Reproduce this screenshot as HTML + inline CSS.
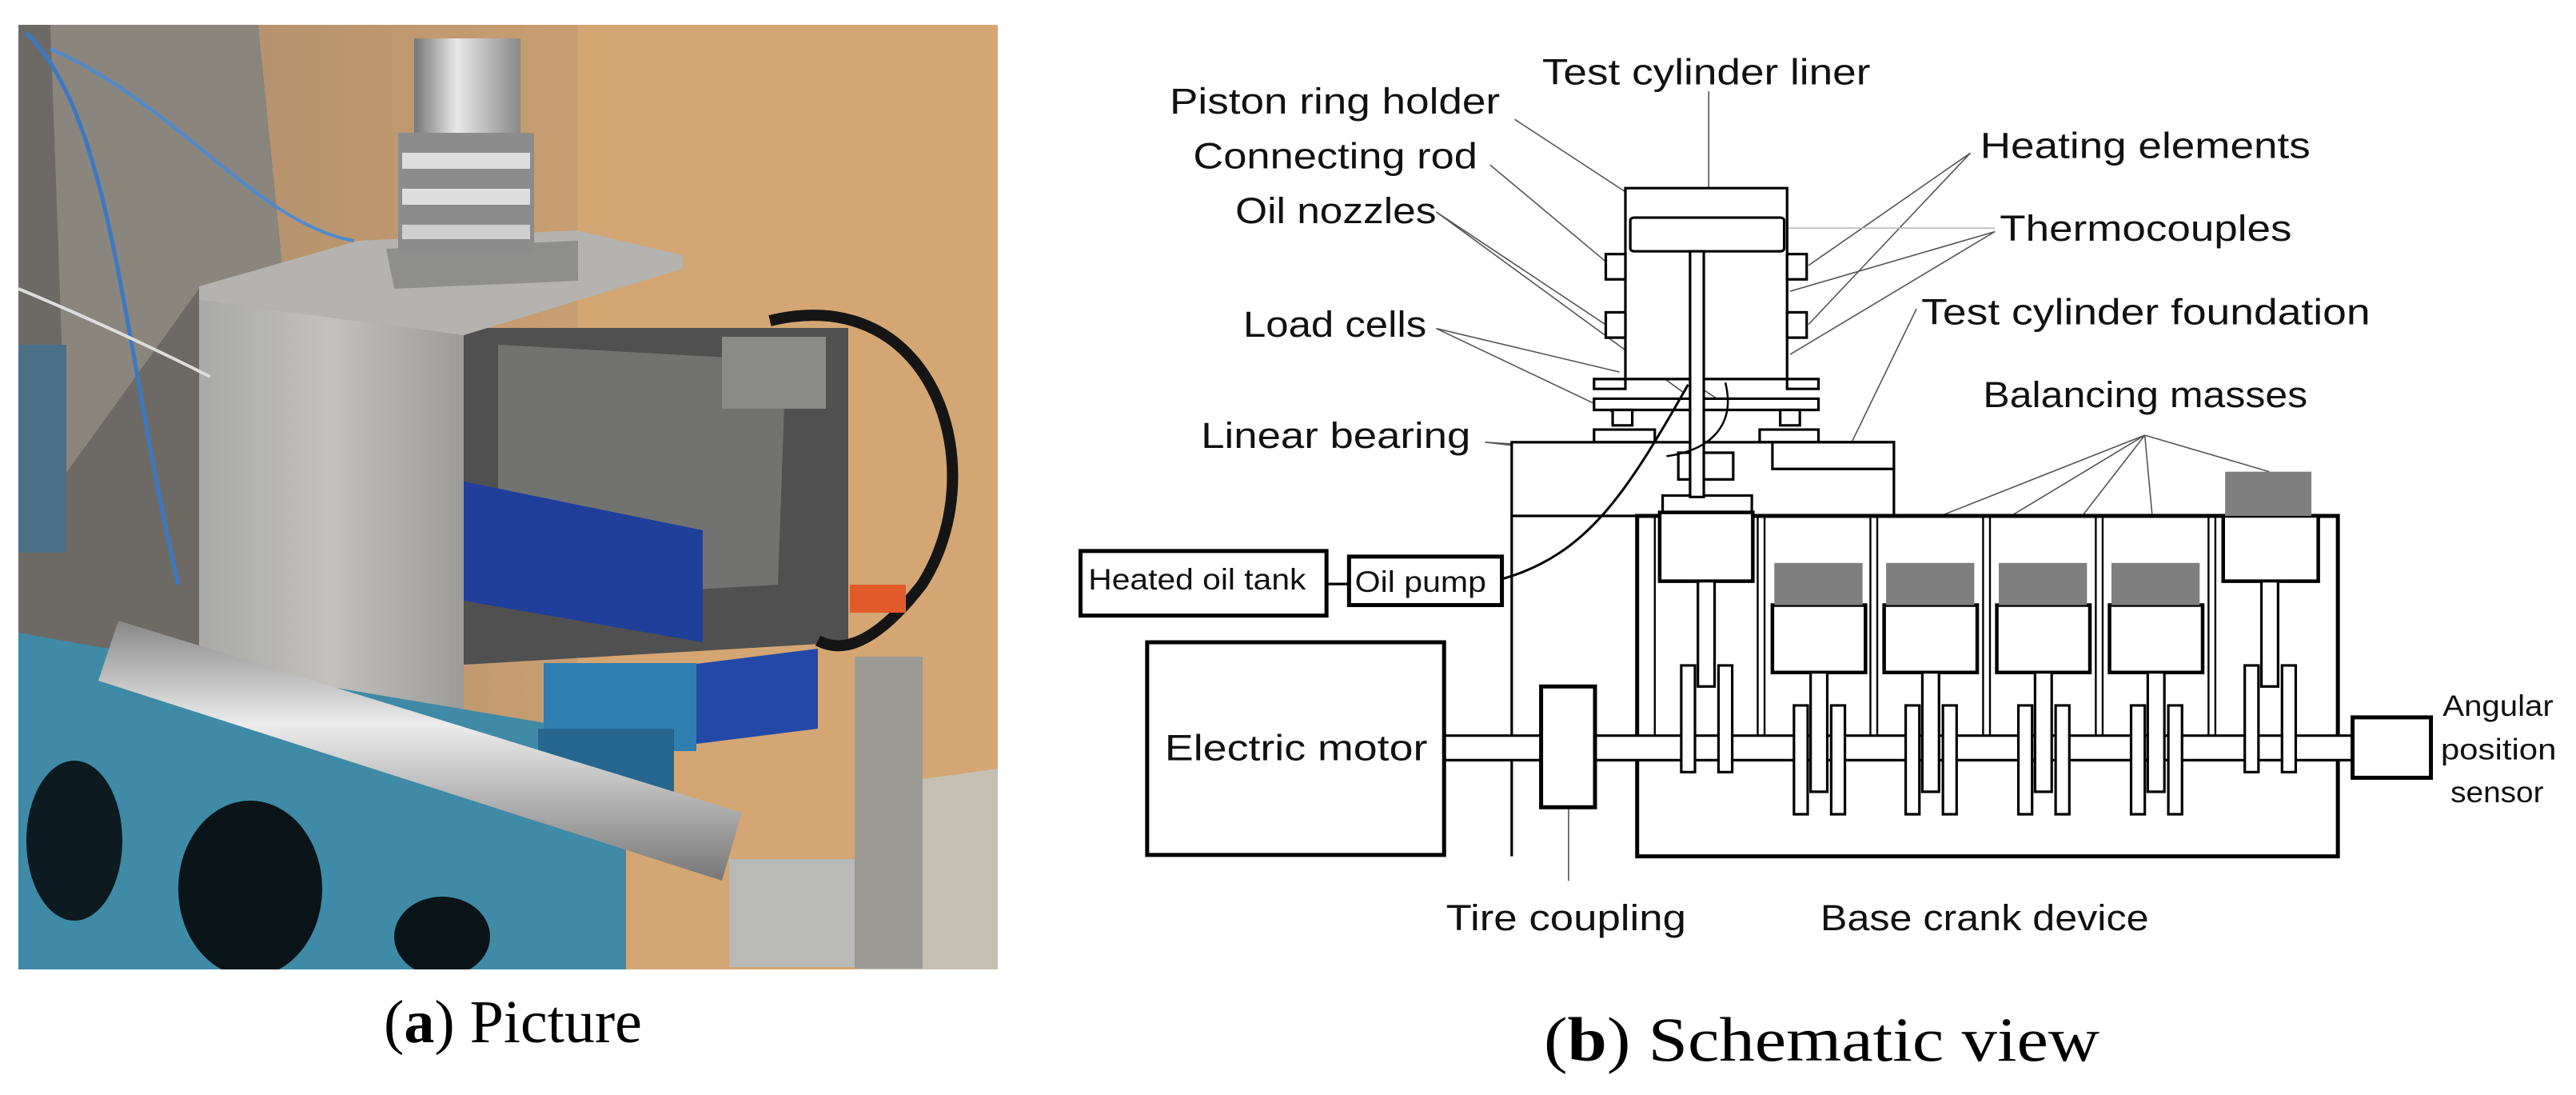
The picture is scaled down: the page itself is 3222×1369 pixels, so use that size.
<!DOCTYPE html>
<html><head><meta charset="utf-8"><style>
html,body{margin:0;padding:0;background:#fff;}
body{width:3222px;height:1369px;position:relative;overflow:hidden;}
.cap{position:absolute;font-family:"Liberation Serif",serif;font-size:76px;color:#000;white-space:nowrap;}
</style></head><body>
<!-- Photo approximation -->
<svg style="position:absolute;left:23px;top:31px" width="1225" height="1181" viewBox="0 0 1225 1181">
<defs>
<linearGradient id="bg" x1="0" y1="0" x2="1" y2="0"><stop offset="0" stop-color="#a88a6c"/><stop offset="0.5" stop-color="#c49c70"/><stop offset="1" stop-color="#d8ae7e"/></linearGradient>
<linearGradient id="alu" x1="0" y1="0" x2="1" y2="0"><stop offset="0" stop-color="#a9a9a7"/><stop offset="0.5" stop-color="#c2c1bd"/><stop offset="1" stop-color="#9c9b98"/></linearGradient>
<linearGradient id="cyl" x1="0" y1="0" x2="1" y2="0"><stop offset="0" stop-color="#777"/><stop offset="0.4" stop-color="#e8e8e8"/><stop offset="1" stop-color="#888"/></linearGradient>
<linearGradient id="tube" x1="0" y1="0" x2="0" y2="1"><stop offset="0" stop-color="#888"/><stop offset="0.4" stop-color="#ececec"/><stop offset="1" stop-color="#777"/></linearGradient>
</defs>
<rect width="1225" height="1181" fill="url(#bg)"/>
<rect x="700" y="0" width="525" height="1181" fill="#d3a673"/>
<polygon points="1080,950 1225,930 1225,1181 1050,1181" fill="#c6c0b2"/>
<rect x="0" y="0" width="226" height="790" fill="#6d6a66"/>
<polygon points="40,0 300,0 330,300 226,330 60,560" fill="#8a857d"/>
<rect x="0" y="400" width="60" height="260" fill="#4b6f86"/>
<!-- engine block -->
<polygon points="557,379 1038,379 1038,772 557,800" fill="#505050"/>
<polygon points="600,400 960,420 950,700 600,720" fill="#727270"/>
<rect x="880" y="390" width="130" height="90" fill="#8a8a88"/>
<!-- blue bracket -->
<polygon points="557,571 856,632 856,772 557,720" fill="#1f3f9b"/>
<polygon points="840,800 1000,780 1000,880 840,900" fill="#2448a8"/>
<!-- aluminium block -->
<polygon points="226,344 557,388 557,873 226,800" fill="url(#alu)"/>
<polygon points="226,327 425,270 698,257 831,288 831,305 557,388 226,344" fill="#b4b3af"/>
<polygon points="460,280 700,270 700,320 470,330" fill="#8e8e8c"/>
<!-- cylinder -->
<rect x="495" y="17" width="133" height="120" fill="url(#cyl)"/>
<rect x="475" y="135" width="170" height="150" fill="#8c8c8c"/>
<rect x="480" y="160" width="160" height="20" fill="#ddd"/>
<rect x="480" y="205" width="160" height="20" fill="#ddd"/>
<rect x="480" y="250" width="160" height="18" fill="#cfcfcf"/>
<!-- wires -->
<path d="M10,10 C120,120 130,400 200,700" stroke="#3b78c4" stroke-width="5" fill="none"/>
<path d="M40,30 C200,100 300,250 420,270" stroke="#4d8ad0" stroke-width="4" fill="none"/>
<path d="M0,330 C120,380 200,420 240,440" stroke="#ddd" stroke-width="4" fill="none"/>
<path d="M940,370 C1150,320 1220,560 1130,700 C1060,790 1020,780 1000,770" stroke="#151515" stroke-width="14" fill="none"/>
<!-- teal base -->
<polygon points="0,760 226,800 760,890 760,1181 0,1181" fill="#3f8aa6"/>
<ellipse cx="70" cy="1020" rx="60" ry="100" fill="#0d1a20"/>
<ellipse cx="290" cy="1080" rx="90" ry="110" fill="#0b1418"/>
<ellipse cx="530" cy="1140" rx="60" ry="50" fill="#0b1418"/>
<!-- pump -->
<rect x="657" y="798" width="191" height="110" fill="#2f7fb0"/>
<rect x="650" y="880" width="170" height="93" fill="#26668f"/>
<!-- tube -->
<polygon points="125,745 905,985 880,1070 100,820" fill="url(#tube)"/>
<rect x="889" y="1043" width="157" height="135" fill="#b9b9b7"/>
<rect x="1046" y="790" width="85" height="390" fill="#9c9a94"/>
<rect x="1040" y="700" width="70" height="35" fill="#e35a2a"/>
</svg>
<div class="cap" style="left:480px;top:1235px;">(<b>a</b>) Picture</div>

<!-- Schematic -->
<svg style="position:absolute;left:1300px;top:0" width="1922" height="1369" viewBox="0 0 1568 1560" preserveAspectRatio="none" font-family="Liberation Sans, sans-serif">
<g stroke="#555" stroke-width="1.6" fill="none">
<line vector-effect="non-scaling-stroke" x1="683" y1="130" x2="683" y2="268"/>
<line vector-effect="non-scaling-stroke" x1="485" y1="170" x2="660" y2="330"/>
<line vector-effect="non-scaling-stroke" x1="460" y1="235" x2="670" y2="480"/>
<line vector-effect="non-scaling-stroke" x1="405" y1="302" x2="658" y2="560"/>
<line vector-effect="non-scaling-stroke" x1="405" y1="302" x2="700" y2="576"/>
<line vector-effect="non-scaling-stroke" x1="405" y1="468" x2="592" y2="530"/>
<line vector-effect="non-scaling-stroke" x1="405" y1="468" x2="592" y2="592"/>
<line vector-effect="non-scaling-stroke" x1="950" y1="218" x2="785" y2="378"/>
<line vector-effect="non-scaling-stroke" x1="950" y1="218" x2="785" y2="462"/>
<line vector-effect="non-scaling-stroke" x1="975" y1="330" x2="766" y2="415"/>
<line vector-effect="non-scaling-stroke" x1="975" y1="330" x2="766" y2="505"/>
<line vector-effect="non-scaling-stroke" x1="763" y1="325" x2="975" y2="325" stroke="#bbb"/>
<line vector-effect="non-scaling-stroke" x1="895" y1="440" x2="822" y2="650"/>
<line vector-effect="non-scaling-stroke" x1="1128" y1="620" x2="798" y2="802"/>
<line vector-effect="non-scaling-stroke" x1="1128" y1="620" x2="912" y2="802"/>
<line vector-effect="non-scaling-stroke" x1="1128" y1="620" x2="1027" y2="802"/>
<line vector-effect="non-scaling-stroke" x1="1128" y1="620" x2="1140" y2="802"/>
<line vector-effect="non-scaling-stroke" x1="1128" y1="620" x2="1255" y2="672"/>
<line vector-effect="non-scaling-stroke" x1="455" y1="630" x2="650" y2="662"/>
<line vector-effect="non-scaling-stroke" x1="455" y1="630" x2="615" y2="644"/>
<line vector-effect="non-scaling-stroke" x1="540" y1="1150" x2="540" y2="1255"/>
</g>
<g fill="#fff" stroke="#000" stroke-width="3.2">
<rect vector-effect="non-scaling-stroke" x="598" y="268" width="165" height="272"/>
<rect vector-effect="non-scaling-stroke" x="603" y="310" width="157" height="48" rx="4"/>
<rect vector-effect="non-scaling-stroke" x="578" y="362" width="20" height="36"/><rect vector-effect="non-scaling-stroke" x="578" y="445" width="20" height="36"/>
<rect vector-effect="non-scaling-stroke" x="763" y="362" width="20" height="36"/><rect vector-effect="non-scaling-stroke" x="763" y="445" width="20" height="36"/>
<rect vector-effect="non-scaling-stroke" x="566" y="540" width="32" height="14"/><rect vector-effect="non-scaling-stroke" x="763" y="540" width="32" height="14"/>
<rect vector-effect="non-scaling-stroke" x="566" y="568" width="229" height="16"/>
<rect vector-effect="non-scaling-stroke" x="585" y="584" width="20" height="22"/><rect vector-effect="non-scaling-stroke" x="756" y="584" width="20" height="22"/>
<rect vector-effect="non-scaling-stroke" x="566" y="612" width="62" height="18"/><rect vector-effect="non-scaling-stroke" x="735" y="612" width="60" height="18"/>
<rect vector-effect="non-scaling-stroke" x="482" y="630" width="390" height="105"/>
<line vector-effect="non-scaling-stroke" x1="482" y1="735" x2="482" y2="1220"/>
<rect vector-effect="non-scaling-stroke" x="748" y="630" width="124" height="38"/>
<rect vector-effect="non-scaling-stroke" x="652" y="645" width="56" height="38"/>
<rect vector-effect="non-scaling-stroke" x="636" y="706" width="91" height="24"/>
<rect vector-effect="non-scaling-stroke" x="610" y="735" width="715" height="485" stroke-width="5"/>
<g stroke-width="2.4">
<line vector-effect="non-scaling-stroke" x1="628" y1="735" x2="628" y2="1050"/>
<line vector-effect="non-scaling-stroke" x1="733" y1="735" x2="733" y2="1050"/><line vector-effect="non-scaling-stroke" x1="740" y1="735" x2="740" y2="1050"/>
<line vector-effect="non-scaling-stroke" x1="848" y1="735" x2="848" y2="1050"/><line vector-effect="non-scaling-stroke" x1="855" y1="735" x2="855" y2="1050"/>
<line vector-effect="non-scaling-stroke" x1="963" y1="735" x2="963" y2="1050"/><line vector-effect="non-scaling-stroke" x1="970" y1="735" x2="970" y2="1050"/>
<line vector-effect="non-scaling-stroke" x1="1078" y1="735" x2="1078" y2="1050"/><line vector-effect="non-scaling-stroke" x1="1085" y1="735" x2="1085" y2="1050"/>
<line vector-effect="non-scaling-stroke" x1="1193" y1="735" x2="1193" y2="1050"/><line vector-effect="non-scaling-stroke" x1="1200" y1="735" x2="1200" y2="1050"/>
</g>
<rect vector-effect="non-scaling-stroke" x="413" y="1048" width="927" height="35"/>
<rect vector-effect="non-scaling-stroke" x="664" y="358" width="14" height="350"/>
<g stroke-width="4.5">
<rect vector-effect="non-scaling-stroke" x="633" y="730" width="95" height="98"/>
<rect vector-effect="non-scaling-stroke" x="1208" y="735" width="97" height="93"/>
<rect vector-effect="non-scaling-stroke" x="748" y="862" width="95" height="96"/>
<rect vector-effect="non-scaling-stroke" x="862" y="862" width="95" height="96"/>
<rect vector-effect="non-scaling-stroke" x="977" y="862" width="95" height="96"/>
<rect vector-effect="non-scaling-stroke" x="1092" y="862" width="95" height="96"/>
</g>
<rect vector-effect="non-scaling-stroke" x="672" y="828" width="17" height="150"/>
<rect vector-effect="non-scaling-stroke" x="655" y="948" width="14" height="152"/><rect vector-effect="non-scaling-stroke" x="693" y="948" width="14" height="152"/>
<rect vector-effect="non-scaling-stroke" x="1247" y="828" width="17" height="150"/>
<rect vector-effect="non-scaling-stroke" x="1230" y="948" width="14" height="152"/><rect vector-effect="non-scaling-stroke" x="1268" y="948" width="14" height="152"/>
<rect vector-effect="non-scaling-stroke" x="787" y="958" width="17" height="170"/><rect vector-effect="non-scaling-stroke" x="770" y="1005" width="14" height="155"/><rect vector-effect="non-scaling-stroke" x="808" y="1005" width="14" height="155"/>
<rect vector-effect="non-scaling-stroke" x="901" y="958" width="17" height="170"/><rect vector-effect="non-scaling-stroke" x="884" y="1005" width="14" height="155"/><rect vector-effect="non-scaling-stroke" x="922" y="1005" width="14" height="155"/>
<rect vector-effect="non-scaling-stroke" x="1016" y="958" width="17" height="170"/><rect vector-effect="non-scaling-stroke" x="999" y="1005" width="14" height="155"/><rect vector-effect="non-scaling-stroke" x="1037" y="1005" width="14" height="155"/>
<rect vector-effect="non-scaling-stroke" x="1131" y="958" width="17" height="170"/><rect vector-effect="non-scaling-stroke" x="1114" y="1005" width="14" height="155"/><rect vector-effect="non-scaling-stroke" x="1152" y="1005" width="14" height="155"/>
<g stroke-width="5">
<rect vector-effect="non-scaling-stroke" x="110" y="915" width="303" height="303"/>
<rect vector-effect="non-scaling-stroke" x="512" y="978" width="55" height="172"/>
<rect vector-effect="non-scaling-stroke" x="1340" y="1022" width="80" height="86"/>
<rect vector-effect="non-scaling-stroke" x="42" y="785" width="251" height="92"/>
<rect vector-effect="non-scaling-stroke" x="316" y="793" width="156" height="69"/>
</g>
</g>
<line vector-effect="non-scaling-stroke" x1="293" y1="832" x2="316" y2="832" stroke="#000" stroke-width="3.2"/>
<g fill="#7f7f7f">
<rect x="750" y="802" width="90" height="60"/><rect x="864" y="802" width="90" height="60"/>
<rect x="979" y="802" width="90" height="60"/><rect x="1094" y="802" width="90" height="60"/>
<rect x="1210" y="672" width="88" height="63"/>
</g>
<path vector-effect="non-scaling-stroke" d="M472,825 C560,790 600,700 662,548" stroke="#000" stroke-width="3" fill="none"/>
<path vector-effect="non-scaling-stroke" d="M700,545 C710,600 690,640 640,650" stroke="#000" stroke-width="2.5" fill="none"/>
<g font-size="52" fill="#111">
<text x="513" y="120" textLength="335" lengthAdjust="spacingAndGlyphs">Test cylinder liner</text>
<text x="133" y="162" textLength="337" lengthAdjust="spacingAndGlyphs">Piston ring holder</text>
<text x="157" y="240" textLength="290" lengthAdjust="spacingAndGlyphs">Connecting rod</text>
<text x="200" y="318" textLength="205" lengthAdjust="spacingAndGlyphs">Oil nozzles</text>
<text x="960" y="225" textLength="337" lengthAdjust="spacingAndGlyphs">Heating elements</text>
<text x="980" y="343" textLength="298" lengthAdjust="spacingAndGlyphs">Thermocouples</text>
<text x="208" y="480" textLength="187" lengthAdjust="spacingAndGlyphs">Load cells</text>
<text x="900" y="462" textLength="458" lengthAdjust="spacingAndGlyphs">Test cylinder foundation</text>
<text x="963" y="580" textLength="331" lengthAdjust="spacingAndGlyphs">Balancing masses</text>
<text x="165" y="638" textLength="275" lengthAdjust="spacingAndGlyphs">Linear bearing</text>
<text x="128" y="1083" textLength="268" lengthAdjust="spacingAndGlyphs">Electric motor</text>
<text x="415" y="1325" textLength="245" lengthAdjust="spacingAndGlyphs">Tire coupling</text>
<text x="797" y="1325" textLength="335" lengthAdjust="spacingAndGlyphs">Base crank device</text>
</g>
<g font-size="42" fill="#111">
<text x="50" y="840" textLength="222" lengthAdjust="spacingAndGlyphs">Heated oil tank</text>
<text x="322" y="843" textLength="134" lengthAdjust="spacingAndGlyphs">Oil pump</text>
<text x="1432" y="1020" textLength="113" lengthAdjust="spacingAndGlyphs">Angular</text>
<text x="1430" y="1082" textLength="118" lengthAdjust="spacingAndGlyphs">position</text>
<text x="1440" y="1143" textLength="95" lengthAdjust="spacingAndGlyphs">sensor</text>
</g>
</svg>
<svg style="position:absolute;left:0;top:0" width="3222" height="1369">
<text x="1931" y="1326" font-family="Liberation Serif, serif" font-size="78" textLength="695" lengthAdjust="spacingAndGlyphs">(<tspan font-weight="bold">b</tspan>) Schematic view</text>
</svg>
</body></html>
